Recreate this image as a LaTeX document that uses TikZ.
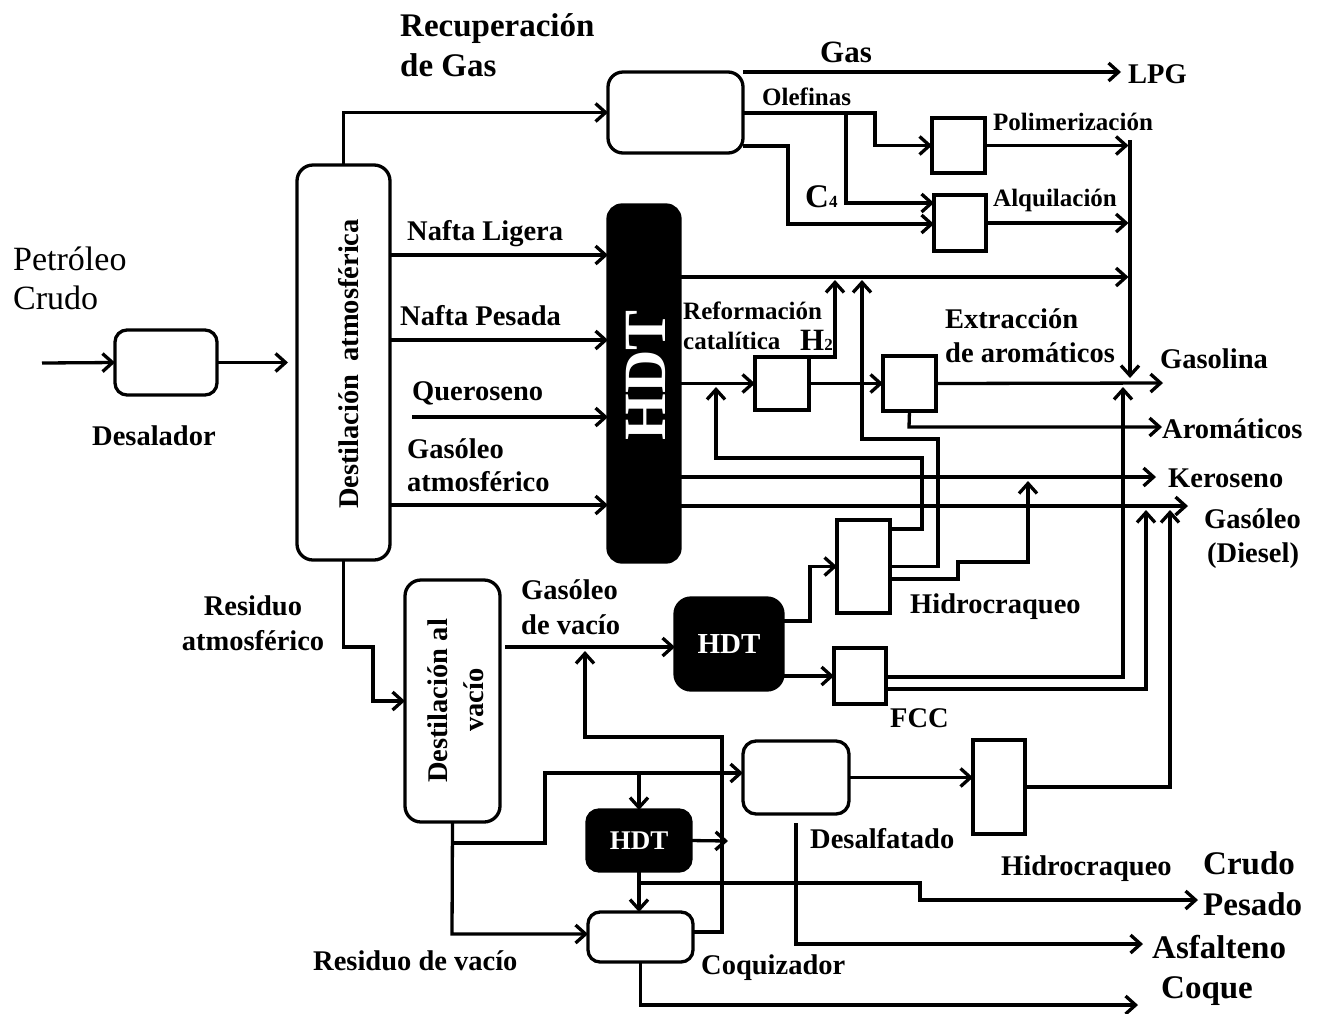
\documentclass[tikz,border=0pt]{standalone}
\usepackage{fontspec}
\setmainfont{Liberation Serif}
\usetikzlibrary{arrows.meta}
\begin{document}
\begin{tikzpicture}[x=1pt,y=-1pt,
  ln/.style={line width=3.3pt},
  arr/.style={line width=3.3pt,-{Straight Barb[length=10pt,width=18pt]}},
  wbox/.style={draw,line width=3.3pt,inner sep=0pt,outer sep=0pt},
  rbox/.style={wbox,rounded corners=13pt},
  bbox/.style={draw,fill=black,line width=3.3pt,rounded corners=13pt,inner sep=0pt,outer sep=0pt,text=white,font=\bfseries\fontsize{29}{30}\selectfont},
  lab/.style={inner sep=0pt,anchor=base west,font=\bfseries\fontsize{28.5}{30}\selectfont},
  labs/.style={lab,font=\bfseries\fontsize{25}{27}\selectfont},
  labl/.style={lab,font=\bfseries\fontsize{33}{36}\selectfont},
  labr/.style={lab,font=\fontsize{34}{36}\selectfont},
  vlab/.style={rotate=90,anchor=base,inner sep=0pt,font=\bfseries\fontsize{28.5}{30}\selectfont},
]
\fill[white] (0,0) rectangle (1321,1013);
\useasboundingbox (0,0) rectangle (1321,1013);

% ---------------- boxes ----------------
\node[rbox,minimum width=102pt,minimum height=65pt,rounded corners=12pt] (desal) at (166,362.5) {};
\node[rbox,minimum width=93pt,minimum height=395pt,rounded corners=16pt] (atm) at (343.5,362.5) {};
\node[rbox,minimum width=135pt,minimum height=81pt,rounded corners=15pt] (gasrec) at (675.5,112.5) {};
\node[wbox,minimum width=53pt,minimum height=55pt] (poli) at (958.5,145.5) {};
\node[wbox,minimum width=52pt,minimum height=56pt] (alq) at (960,223) {};
\node[bbox,minimum width=72pt,minimum height=357pt,rounded corners=14pt] (hdta) at (644,383.5) {};
\node[wbox,minimum width=54pt,minimum height=53pt] (ref) at (782,383.5) {};
\node[wbox,minimum width=53pt,minimum height=55pt] (ext) at (909.5,383.5) {};
\node[wbox,minimum width=53pt,minimum height=93pt] (hca) at (863.5,566.5) {};
\node[bbox,minimum width=108pt,minimum height=92pt,rounded corners=16pt] (hdtb) at (729,644) {HDT};
\node[wbox,minimum width=52pt,minimum height=56pt] (fcc) at (860,676) {};
\node[rbox,minimum width=95pt,minimum height=242pt,rounded corners=16pt] (vac) at (452.5,701) {};
\node[rbox,minimum width=106pt,minimum height=73pt] (desf) at (796,777.5) {};
\node[wbox,minimum width=52pt,minimum height=94pt] (hcb) at (999,787) {};
\node[bbox,minimum width=104pt,minimum height=61pt,rounded corners=12pt,font=\bfseries\fontsize{27}{29}\selectfont] (hdtc) at (639,840.5) {HDT};
\node[rbox,minimum width=105pt,minimum height=50pt,rounded corners=12pt] (coq) at (640.5,937) {};

\node[vlab,text=white,font=\bfseries\fontsize{60}{60}\selectfont] (hdtatxt) at (665,375) {HDT};
\node[vlab] (tatm) at (358,364) {Destilación\hspace{0.45em}atmosférica};
\node[vlab] (tvac1) at (447,701) {Destilación al};
\node[vlab] (tvac2) at (483,700) {vacío};

% ---------------- free ends ----------------
\coordinate (in0) at (42,363);
\coordinate (lpgend) at (1121,73);
\coordinate (vg) at (1130,140);
\coordinate (gasol) at (1163,383);
\coordinate (aroend) at (1162,427);
\coordinate (keroend) at (1156,477);
\coordinate (gasoend) at (1188,506);
\coordinate (qstart) at (412,417);
\coordinate (hdtcout) at (728,841);
\coordinate (cpend) at (1198,900);
\coordinate (asfend) at (1143,944);
\coordinate (coqend) at (1138,1005);

% ---------------- connectors ----------------
\draw[arr] (in0) -- (desal.west);
\draw[arr,shorten >=9pt] (desal.east) -- (atm.west |- desal.east);
\draw[arr] (atm.north) |- (gasrec.west);
\draw[arr] (gasrec.north east) -- (lpgend |- gasrec.north east);
% olefinas
\draw[arr] (gasrec.east |- 0,113) -- (875,113) |- (poli.west);
\draw[arr] (846,113) |- (alq.west |- 0,203);
% C4
\draw[arr] (gasrec.east |- 0,146) -- (788,146) |- (alq.west |- 0,224);
% gasoline collector
\draw[arr] (vg) -- (1130,378);
\draw[arr,shorten >=1.5pt] (poli.east) -- (poli.east -| vg);
\draw[arr,shorten >=1.5pt] (alq.east) -- (alq.east -| vg);
\draw[arr,shorten >=1.5pt] (hdta.east |- 0,277) -- (vg |- 0,277);
% column to HDT
\draw[arr] (atm.east |- 0,255) -- (hdta.west |- 0,255);
\draw[arr] (atm.east |- 0,340) -- (hdta.west |- 0,340);
\draw[arr] (qstart) -- (hdta.west |- qstart);
\draw[arr] (atm.east |- 0,505) -- (hdta.west |- 0,505);
% reforming
\draw[arr] (hdta.east |- ref.west) -- (ref.west);
\draw[arr] (ref.north east) -- (835,357) -- (835,280);
\draw[arr] (ref.east) -- (ext.west);
\draw[arr] (ext.east) -- (gasol);
\draw[arr] (ext.south) -- (909,427) -- (aroend);
% kerosene, gas oil
\draw[arr] (hdta.east |- keroend) -- (keroend);
\draw[arr] (hdta.east |- gasoend) -- (gasoend);
% hydrocracking outputs
\draw[arr] (hca.east) -- (938,566.5) -- (938,439) -- (862,439) -- (862,280);
\draw[arr] (hca.east |- 0,529) -- (922,529) -- (922,458) -- (716,458) -- (716,387);
\draw[arr] (hca.east |- 0,579) -- (958,579) -- (958,562) -- (1028,562) -- (1028,481);
% atmospheric residue
\draw[arr] (atm.south) -- (343.5,647) -- (373,647) -- (373,701) -- (vac.west);
% vacuum gas oil
\draw[arr] (505,647) -- (hdtb.west |- 0,647);
\draw[arr] (coq.east |- 0,932) -- (722,932) -- (722,737) -- (585,737) -- (585,651);
\draw[arr] (hdtb.east |- 0,621) -- (810,621) -- (810,566.5) -- (hca.west);
\draw[arr] (hdtb.east |- fcc.west) -- (fcc.west);
% FCC outputs
\draw[arr] (fcc.east |- 0,677) -- (1123,677) -- (1123,387);
\draw[arr] (fcc.east |- 0,689) -- (1146,689) -- (1146,510);
% second hydrocracking
\draw[arr] (desf.east) -- (hcb.west |- desf.east);
\draw[arr] (hcb.east) -- (1170,787) -- (1170,510);
% vacuum residue
\draw[arr] (vac.south) -- (452,934) -- (coq.west |- 0,934);
\draw[arr] (452,843) -- (545,843) -- (545,773) -- (desf.west |- 0,773);
\draw[arr] (hdtc.north |- 0,773) -- (hdtc.north);
\draw[arr] (hdtc.east) -- (hdtcout);
\draw[arr] (hdtc.south) -- (hdtc.south |- coq.north);
\draw[arr] (hdtc.south |- 0,883) -- (920,883) -- (920,900) -- (cpend);
\draw[arr] (coq.south) -- (coq.south |- coqend) -- (coqend);
\draw[arr] (796,823) -- (796,944) -- (asfend);

% ---------------- labels ----------------
\node[labl] (trec1) at (400,36) {Recuperación};
\node[labl] (trec2) at (400,76) {de Gas};
\node[lab,anchor=base,font=\bfseries\fontsize{31}{32}\selectfont] (tgas) at (846,62) {Gas};
\node[lab] (tlpg) at (1128,83) {LPG};
\node[labs] (tole) at (762,105) {Olefinas};
\node[labs] (tpol) at (993,130) {Polimerización};
\node[labs] (talq) at (993,206) {Alquilación};
\node[lab] (tc4) at (805,207) {\fontsize{33}{33}\selectfont C\fontsize{17}{17}\selectfont 4};
\node[labr] (tpet1) at (13,270) {Petróleo};
\node[labr] (tpet2) at (13,309) {Crudo};
\node[lab] (tdesal) at (92,445) {Desalador};
\node[lab] (tnl) at (407,240) {Nafta Ligera};
\node[lab] (tnp) at (400,325) {Nafta Pesada};
\node[lab] (tque) at (412,400) {Queroseno};
\node[lab] (tgo1) at (407,458) {Gasóleo};
\node[lab] (tgo2) at (407,491) {atmosférico};
\node[labs] (tref1) at (683,319) {Reformación};
\node[labs] (tref2) at (683,349) {catalítica};
\node[lab] (th2) at (800,350) {\fontsize{31}{31}\selectfont H\fontsize{17}{17}\selectfont 2};
\node[lab] (text1) at (945,328) {Extracción};
\node[lab] (text2) at (945,362) {de aromáticos};
\node[lab] (tgasol) at (1160,368) {Gasolina};
\node[lab] (taro) at (1162,438) {Aromáticos};
\node[lab] (tkero) at (1168,487) {Keroseno};
\node[lab] (tgso1) at (1204,528) {Gasóleo};
\node[lab] (tgso2) at (1207,562) {(Diesel)};
\node[lab] (thc1) at (910,613) {Hidrocraqueo};
\node[lab,anchor=base] (tres1) at (253,615) {Residuo};
\node[lab,anchor=base] (tres2) at (253,650) {atmosférico};
\node[lab] (tvgo1) at (521,599) {Gasóleo};
\node[lab] (tvgo2) at (521,634) {de vacío};
\node[lab] (tfcc) at (890,727) {FCC};
\node[lab] (tdesf) at (810,848) {Desalfatado};
\node[lab] (thc2) at (1001,875) {Hidrocraqueo};
\node[labl] (tcp1) at (1203,874) {Crudo};
\node[labl] (tcp2) at (1203,915) {Pesado};
\node[labl] (tasf) at (1152,958) {Asfalteno};
\node[labl] (tcoq) at (1161,998) {Coque};
\node[lab] (trv) at (313,970) {Residuo de vacío};
\node[lab] (tcoqz) at (701,974) {Coquizador};
\end{tikzpicture}
\end{document}
